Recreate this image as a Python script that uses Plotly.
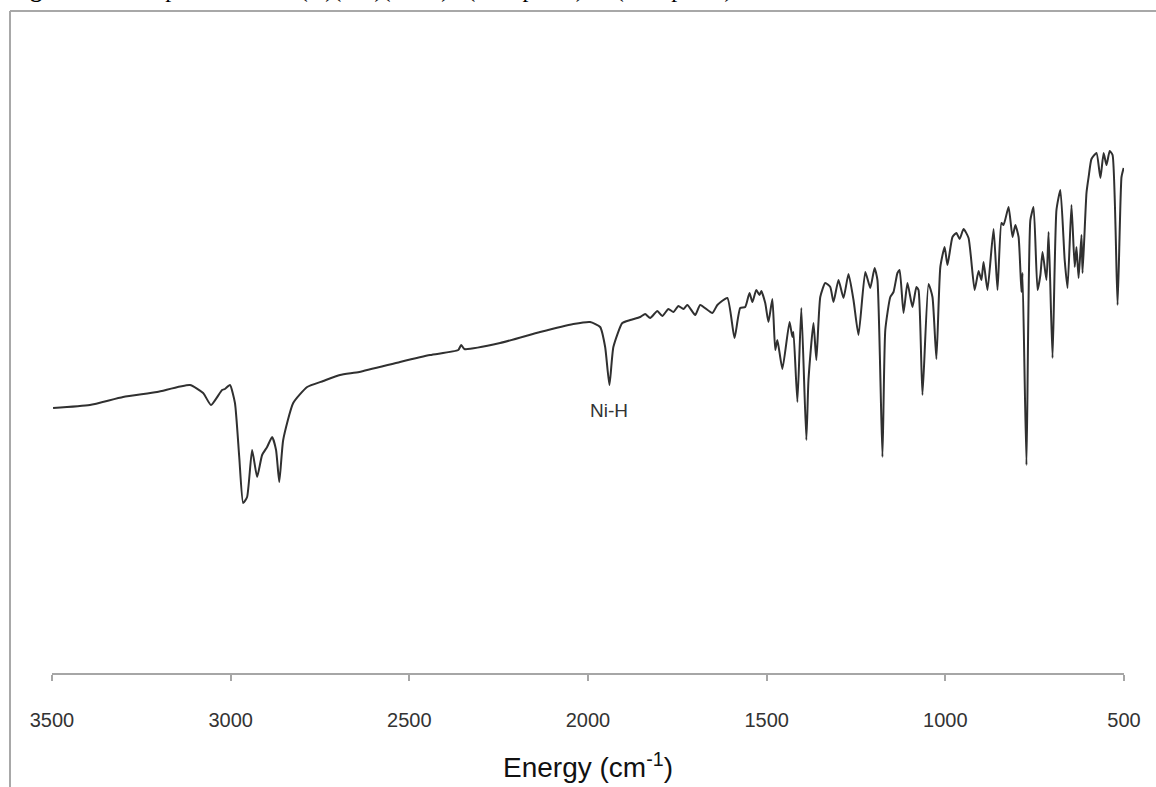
import plotly.graph_objects as go

# IR spectrum (wavenumber in cm-1, transmittance in arbitrary units)
wavenumber = [3497, 3394, 3301, 3206, 3114, 3077, 3055, 3024, 3016, 3002, 2988, 2976, 2965, 2954,
              2940, 2926, 2912, 2898, 2884, 2873, 2864, 2853, 2825, 2786, 2741, 2694, 2640, 2526,
              2442, 2363, 2355, 2346, 2246, 2134, 2041, 1994, 1966, 1952, 1940, 1929, 1904, 1882,
              1854, 1840, 1826, 1806, 1792, 1775, 1761, 1747, 1733, 1722, 1700, 1686, 1652, 1638,
              1610, 1590, 1574, 1560, 1548, 1540, 1529, 1520, 1515, 1504, 1495, 1484, 1476, 1470,
              1456, 1436, 1428, 1425, 1414, 1403, 1389, 1383, 1369, 1361, 1350, 1336, 1322, 1313,
              1299, 1285, 1271, 1257, 1243, 1224, 1210, 1198, 1190, 1176, 1168, 1154, 1145, 1134,
              1128, 1117, 1106, 1092, 1081, 1075, 1064, 1047, 1036, 1025, 1014, 1002, 994, 980,
              969, 960, 949, 935, 918, 907, 899, 893, 882, 865, 854, 843, 837, 823, 812, 804, 795,
              787, 784, 773, 762, 753, 742, 734, 728, 717, 711, 700, 689, 678, 666, 658, 647, 638,
              633, 627, 619, 616, 605, 599, 591, 577, 566, 557, 549, 540, 532, 518, 507, 501]
transmittance = [53.0, 53.6, 55.2, 56.2, 57.6, 56.0, 53.6, 56.6, 56.8, 57.6, 54.0, 43.2, 34.0, 35.2,
                 44.6, 39.2, 43.6, 45.2, 47.2, 44.6, 38.2, 46.6, 54.0, 57.2, 58.4, 59.6, 60.2, 62.2,
                 63.6, 64.6, 65.6, 64.8, 66.0, 68.2, 69.8, 70.2, 69.2, 65.2, 57.6, 65.2, 70.0, 70.6,
                 71.2, 71.8, 71.0, 72.4, 71.4, 72.8, 72.2, 73.4, 72.8, 73.6, 71.6, 73.6, 72.0, 73.6,
                 75.0, 67.0, 73.0, 73.2, 76.0, 74.2, 76.6, 75.6, 76.4, 74.0, 70.2, 74.8, 64.6, 66.6,
                 60.8, 70.2, 67.2, 68.2, 54.2, 73.0, 46.6, 58.6, 70.0, 62.6, 75.2, 78.0, 77.2, 74.2,
                 78.6, 75.0, 79.8, 74.6, 67.6, 80.2, 77.0, 81.0, 78.6, 43.2, 68.6, 75.2, 76.2, 80.0,
                 80.6, 72.0, 78.0, 73.2, 77.2, 76.6, 55.6, 77.8, 75.2, 62.8, 81.2, 85.2, 81.6, 87.2,
                 88.0, 86.8, 88.8, 87.0, 76.6, 80.4, 78.6, 82.2, 76.6, 88.8, 76.6, 90.0, 89.6, 93.2,
                 87.2, 89.6, 87.2, 76.2, 80.0, 41.6, 90.6, 93.2, 76.6, 79.6, 84.2, 78.6, 88.2, 63.0,
                 92.6, 96.6, 82.6, 77.0, 93.6, 81.2, 85.2, 79.0, 87.6, 80.0, 96.0, 99.2, 102.8,
                 104.0, 99.0, 104.0, 101.6, 104.4, 103.6, 73.6, 99.2, 101.0]

tick_values = [3500, 3000, 2500, 2000, 1500, 1000, 500]
tick_labels = ["3500", "3000", "2500", "2000", "1500", "1000", "500"]

peak_label = "Ni-H"
peak_position = 1940
peak_label_level = 52.6

W, H = 1156, 787
L, R = 52, 1124          # plot area x pixels
B, T = 673, 123          # plot area y pixels
y_range = [0, 110]

def px(xp):
    return (xp - L) / (R - L)

def py(yp):
    return (B - yp) / (B - T)

fig = go.Figure()
fig.add_trace(go.Scatter(
    x=wavenumber, y=transmittance, mode="lines",
    line=dict(color="#303030", width=2, shape="spline", smoothing=0.5),
    hoverinfo="x+y", showlegend=False))

fig.add_annotation(x=peak_position, y=peak_label_level, text=peak_label, showarrow=False,
                   font=dict(family="Liberation Sans, Arial", size=19, color="#333333"))

# cut-off caption at the top of the page (only the lower edge of the glyphs shows)
fig.add_annotation(xref="paper", yref="paper", x=px(8), y=py(3), xanchor="left", yanchor="bottom",
                   borderpad=0,
                   text="<b>Figure S3.</b>  IR spectrum of Ni(H)(CO)(PPh3)2 (KBr pellet) of (KBr pellet)",
                   showarrow=False, font=dict(family="Liberation Serif, Times New Roman", size=24, color="#000000"))

# frame around the chart
frame = dict(color="#a8a8a8", width=2)
fig.add_shape(type="line", xref="paper", yref="paper", x0=px(10), x1=px(10), y0=py(11), y1=py(800), line=frame)
fig.add_shape(type="line", xref="paper", yref="paper", x0=px(10), x1=px(1170), y0=py(11), y1=py(11), line=frame)

fig.update_layout(
    width=W, height=H,
    margin=dict(l=L, r=W - R, t=T, b=H - B, autoexpand=False),
    paper_bgcolor="white", plot_bgcolor="white",
    xaxis=dict(range=[3500, 500], tickvals=tick_values, ticktext=tick_labels,
               showgrid=False, zeroline=False, showline=True, linecolor="#a6a6a6", linewidth=1.5,
               ticks="outside", ticklen=6, tickcolor="#a6a6a6", tickwidth=1.5,
               ticklabelstandoff=22,
               tickfont=dict(family="Liberation Sans, Arial", size=20, color="#333333"),
               title=dict(text="Energy (cm<sup>-1</sup>)", standoff=28,
                          font=dict(family="Liberation Sans, Arial", size=28, color="#111111"))),
    yaxis=dict(range=y_range, visible=False),
)

fig.write_html("out.html")
